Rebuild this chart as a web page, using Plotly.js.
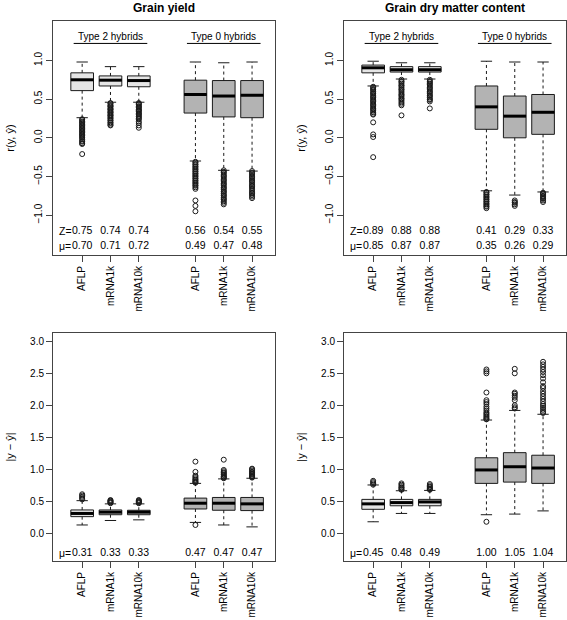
<!DOCTYPE html>
<html><head><meta charset="utf-8">
<script src="https://cdn.plot.ly/plotly-3.0.1.min.js"></script>
<style>body{margin:0;padding:0;background:#fff;} #chart{width:567px;height:620px;}</style>
</head><body><div id="chart"></div>
<script>
// ---------- categories / labels ----------
const methods = ['AFLP', 'mRNA1k', 'mRNA10k', 'AFLP', 'mRNA1k', 'mRNA10k'];
const groupNames = ['Type 2 hybrids', 'Type 0 hybrids'];
const panelTitles = ['Grain yield', 'Grain dry matter content'];

// ---------- Panel 1: Grain yield, r(y, ŷ) ----------
const gyR_q1  = [0.61, 0.67, 0.66, 0.32, 0.27, 0.26];
const gyR_med = [0.75, 0.745, 0.74, 0.56, 0.54, 0.55];
const gyR_q3  = [0.84, 0.80, 0.80, 0.745, 0.74, 0.74];
const gyR_lo  = [0.26, 0.46, 0.46, -0.30, -0.42, -0.43];
const gyR_hi  = [0.98, 0.92, 0.92, 0.98, 0.97, 0.98];
const gyR_out = [
  [0.24, 0.23, 0.21, 0.20, 0.19, 0.17, 0.16, 0.15, 0.13, 0.12, 0.11, 0.09, 0.08, 0.07, 0.05, 0.04, 0.03, 0.01, 0.0, -0.02, -0.04, -0.05, -0.07, -0.08, -0.21],
  [0.45, 0.44, 0.42, 0.41, 0.40, 0.38, 0.37, 0.36, 0.34, 0.33, 0.32, 0.30, 0.29, 0.28, 0.26, 0.25, 0.23, 0.22, 0.20, 0.19, 0.17, 0.16],
  [0.45, 0.44, 0.43, 0.41, 0.40, 0.39, 0.37, 0.36, 0.35, 0.34, 0.32, 0.31, 0.30, 0.28, 0.27, 0.25, 0.24, 0.21, 0.19, 0.16, 0.13],
  [-0.31, -0.32, -0.34, -0.35, -0.37, -0.38, -0.40, -0.41, -0.43, -0.44, -0.46, -0.47, -0.49, -0.50, -0.52, -0.53, -0.55, -0.56, -0.58, -0.59, -0.61, -0.62, -0.64, -0.66, -0.81, -0.88, -0.95],
  [-0.42, -0.44, -0.45, -0.47, -0.49, -0.50, -0.52, -0.54, -0.55, -0.57, -0.59, -0.60, -0.62, -0.64, -0.65, -0.67, -0.69, -0.70, -0.72, -0.74, -0.75, -0.77, -0.79, -0.80, -0.82, -0.84, -0.86],
  [-0.43, -0.45, -0.46, -0.48, -0.50, -0.51, -0.53, -0.55, -0.56, -0.58, -0.60, -0.62, -0.63, -0.65, -0.67, -0.69, -0.71, -0.72, -0.74, -0.76, -0.78]
];
const gyR_Z  = ['0.75', '0.74', '0.74', '0.56', '0.54', '0.55'];
const gyR_mu = ['0.70', '0.71', '0.72', '0.49', '0.47', '0.48'];

// ---------- Panel 2: Grain dry matter content, r(y, ŷ) ----------
const dmR_q1  = [0.84, 0.85, 0.85, 0.11, 0.0, 0.045];
const dmR_med = [0.905, 0.88, 0.88, 0.40, 0.28, 0.33];
const dmR_q3  = [0.94, 0.92, 0.92, 0.67, 0.54, 0.56];
const dmR_lo  = [0.67, 0.76, 0.76, -0.685, -0.74, -0.70];
const dmR_hi  = [0.99, 0.97, 0.97, 0.99, 0.98, 0.98];
const dmR_out = [
  [0.66, 0.65, 0.63, 0.62, 0.60, 0.58, 0.57, 0.55, 0.53, 0.52, 0.50, 0.48, 0.47, 0.45, 0.43, 0.42, 0.40, 0.38, 0.37, 0.35, 0.33, 0.31, 0.30, 0.20, 0.044, 0.01, -0.25],
  [0.75, 0.73, 0.72, 0.70, 0.68, 0.67, 0.65, 0.63, 0.62, 0.60, 0.58, 0.56, 0.55, 0.53, 0.51, 0.50, 0.48, 0.46, 0.44, 0.42, 0.29],
  [0.75, 0.73, 0.72, 0.70, 0.69, 0.67, 0.65, 0.64, 0.62, 0.60, 0.59, 0.57, 0.55, 0.54, 0.52, 0.50, 0.49, 0.47, 0.38],
  [-0.70, -0.71, -0.73, -0.74, -0.76, -0.77, -0.79, -0.80, -0.82, -0.83, -0.85, -0.86, -0.88, -0.89, -0.91],
  [-0.81, -0.83, -0.84, -0.86, -0.88],
  [-0.71, -0.72, -0.73, -0.75, -0.76, -0.78, -0.79, -0.81, -0.83]
];
const dmR_Z  = ['0.89', '0.88', '0.88', '0.41', '0.29', '0.33'];
const dmR_mu = ['0.85', '0.87', '0.87', '0.35', '0.26', '0.29'];

// ---------- Panel 3: Grain yield, |y − ŷ| ----------
const gyA_q1  = [0.26, 0.29, 0.29, 0.38, 0.36, 0.355];
const gyA_med = [0.31, 0.33, 0.33, 0.47, 0.47, 0.46];
const gyA_q3  = [0.365, 0.365, 0.36, 0.55, 0.56, 0.56];
const gyA_lo  = [0.13, 0.20, 0.21, 0.17, 0.13, 0.10];
const gyA_hi  = [0.51, 0.46, 0.46, 0.78, 0.85, 0.86];
const gyA_out = [
  [0.53, 0.55, 0.57, 0.59, 0.61],
  [0.47, 0.48, 0.49, 0.50, 0.51, 0.52],
  [0.47, 0.48, 0.49, 0.50, 0.51, 0.52],
  [0.79, 0.80, 0.81, 0.83, 0.84, 0.86, 0.88, 0.90, 0.96, 1.12, 0.13],
  [0.86, 0.87, 0.88, 0.89, 0.91, 0.92, 0.94, 0.95, 0.97, 0.99, 1.15],
  [0.87, 0.88, 0.89, 0.90, 0.92, 0.93, 0.95, 0.96, 0.98, 1.00, 1.01]
];
const gyA_mu = ['0.31', '0.33', '0.33', '0.47', '0.47', '0.47'];

// ---------- Panel 4: Grain dry matter content, |y − ŷ| ----------
const dmA_q1  = [0.375, 0.43, 0.43, 0.78, 0.80, 0.78];
const dmA_med = [0.46, 0.48, 0.49, 0.99, 1.04, 1.02];
const dmA_q3  = [0.53, 0.53, 0.53, 1.18, 1.26, 1.22];
const dmA_lo  = [0.18, 0.31, 0.31, 0.29, 0.30, 0.35];
const dmA_hi  = [0.755, 0.665, 0.67, 1.77, 1.92, 1.86];
const dmA_out = [
  [0.76, 0.78, 0.80, 0.82],
  [0.68, 0.69, 0.71, 0.72, 0.74, 0.76, 0.78],
  [0.68, 0.69, 0.70, 0.72, 0.73, 0.75, 0.77],
  [1.78, 1.79, 1.81, 1.83, 1.85, 1.87, 1.89, 1.92, 1.95, 1.98, 2.02, 2.05, 2.08, 2.20, 2.50, 2.53, 2.56, 0.18],
  [1.95, 1.97, 2.00, 2.08, 2.12, 2.15, 2.18, 2.20, 2.50, 2.57],
  [1.88, 1.90, 1.93, 1.96, 1.99, 2.02, 2.06, 2.10, 2.14, 2.18, 2.22, 2.27, 2.30, 2.36, 2.42, 2.47, 2.52, 2.56, 2.60, 2.64, 2.68]
];
const dmA_mu = ['0.45', '0.48', '0.49', '1.00', '1.05', '1.04'];

// ---------- layout constants ----------
const boxPos = [1, 2, 3, 5, 6, 7];
const BOXW = 0.8, CAPW = 0.2;
const FONT = 'Liberation Sans, Arial, Helvetica, sans-serif';
const fills = ['#e5e5e5', '#b3b3b3'];
const INK = '#1a1a1a';

const traces = [];
function addPanel(ax, q1, med, q3, lo, hi, out, rows) {
  const xa = 'x' + (ax === 1 ? '' : ax), ya = 'y' + (ax === 1 ? '' : ax);
  [[0, 3], [3, 6]].forEach(([a, b], g) => {
    traces.push({
      type: 'box', xaxis: xa, yaxis: ya, x: boxPos.slice(a, b),
      q1: q1.slice(a, b), median: med.slice(a, b), q3: q3.slice(a, b),
      lowerfence: q1.slice(a, b), upperfence: q3.slice(a, b),
      width: BOXW, whiskerwidth: 0, boxpoints: false,
      fillcolor: fills[g], line: {color: INK, width: 1},
      hoverinfo: 'skip', showlegend: false
    });
  });
  const wx = [], wy = [], cx = [], cy = [], mx = [], my = [], ox = [], oy = [];
  boxPos.forEach((p, i) => {
    wx.push(p, p, null, p, p, null); wy.push(q3[i], hi[i], null, q1[i], lo[i], null);
    cx.push(p - CAPW, p + CAPW, null, p - CAPW, p + CAPW, null); cy.push(hi[i], hi[i], null, lo[i], lo[i], null);
    mx.push(p - BOXW / 2, p + BOXW / 2, null); my.push(med[i], med[i], null);
    out[i].forEach(v => { ox.push(p); oy.push(v); });
  });
  traces.push({type: 'scatter', mode: 'lines', xaxis: xa, yaxis: ya, x: wx, y: wy,
    line: {color: INK, width: 1, dash: '3px,3px'}, hoverinfo: 'skip', showlegend: false});
  traces.push({type: 'scatter', mode: 'lines', xaxis: xa, yaxis: ya, x: cx, y: cy,
    line: {color: INK, width: 1}, hoverinfo: 'skip', showlegend: false});
  traces.push({type: 'scatter', mode: 'lines', xaxis: xa, yaxis: ya, x: mx, y: my,
    line: {color: '#000', width: 3}, hoverinfo: 'skip', showlegend: false});
  traces.push({type: 'scatter', mode: 'markers', xaxis: xa, yaxis: ya, x: ox, y: oy,
    marker: {symbol: 'circle-open', size: 5, color: INK, line: {width: 1, color: INK}},
    hoverinfo: 'skip', showlegend: false});
  rows.forEach(r => {
    traces.push({type: 'scatter', mode: 'text', xaxis: xa, yaxis: ya, x: boxPos, y: boxPos.map(() => r.y),
      text: r.vals, textposition: 'middle center', cliponaxis: false,
      textfont: {family: FONT, size: 10.5, color: '#000'}, hoverinfo: 'skip', showlegend: false});
  });
}

const rowZ = -1.205, rowMu = -1.40, rowMuB = -0.31;
addPanel(1, gyR_q1, gyR_med, gyR_q3, gyR_lo, gyR_hi, gyR_out, [{y: rowZ, vals: gyR_Z}, {y: rowMu, vals: gyR_mu}]);
addPanel(2, dmR_q1, dmR_med, dmR_q3, dmR_lo, dmR_hi, dmR_out, [{y: rowZ, vals: dmR_Z}, {y: rowMu, vals: dmR_mu}]);
addPanel(3, gyA_q1, gyA_med, gyA_q3, gyA_lo, gyA_hi, gyA_out, [{y: rowMuB, vals: gyA_mu}]);
addPanel(4, dmA_q1, dmA_med, dmA_q3, dmA_lo, dmA_hi, dmA_out, [{y: rowMuB, vals: dmA_mu}]);

const W = 567, H = 620;
const xDom = [[53 / W, 275 / W], [344 / W, 566 / W]];
const yDom = [[1 - 255 / H, 1 - 21 / H], [1 - 561 / H, 1 - 333 / H]];
const XR = [-0.03, 7.81];
const YR_top = [-1.515, 1.51], YR_bot = [-0.433, 3.13];

function xAxis(col, anchor) {
  return {domain: xDom[col], range: XR, anchor: anchor, showgrid: false, zeroline: false,
    showline: true, mirror: true, linecolor: '#444', linewidth: 1,
    ticks: 'outside', ticklen: 6, tickcolor: '#444', tickwidth: 1,
    tickvals: boxPos, ticktext: methods, tickangle: -90,
    tickfont: {family: FONT, size: 10, color: '#000'}, fixedrange: true};
}
function yAxis(row, anchor, title) {
  const top = row === 0;
  return {domain: yDom[row], range: top ? YR_top : YR_bot, anchor: anchor,
    showgrid: false, zeroline: false, showline: true, mirror: true, linecolor: '#444', linewidth: 1,
    ticks: 'outside', ticklen: 6, tickcolor: '#444', tickwidth: 1,
    tickvals: top ? [-1, -0.5, 0, 0.5, 1] : [0, 0.5, 1, 1.5, 2, 2.5, 3],
    tickformat: '.1f', tickangle: top ? -90 : 0,
    tickfont: {family: FONT, size: 10, color: '#000'},
    title: {text: title, font: {family: FONT, size: 11, color: '#000'}, standoff: top ? 16 : 13},
    fixedrange: true};
}

const annotations = [];
const shapes = [];
[0, 1].forEach(col => {
  annotations.push({xref: 'paper', yref: 'paper', x: (xDom[col][0] + xDom[col][1]) / 2, y: 1,
    xanchor: 'center', yanchor: 'top', borderpad: 0, showarrow: false, text: '<b>' + panelTitles[col] + '</b>',
    font: {family: FONT, size: 12, color: '#000'}});
});
[1, 2].forEach(ax => {
  const xr = 'x' + (ax === 1 ? '' : ax), yr = 'y' + (ax === 1 ? '' : ax);
  [[2, 0.7, 3.3], [6, 4.7, 7.3]].forEach(([c, a, b], g) => {
    annotations.push({xref: xr, yref: yr, x: c, y: 1.31, showarrow: false, text: groupNames[g],
      xanchor: 'center', yanchor: 'middle', font: {family: FONT, size: 10, color: '#000'}});
    shapes.push({type: 'line', xref: xr, yref: yr, x0: a, x1: b, y0: 1.22, y1: 1.22, line: {color: '#000', width: 1}});
  });
  annotations.push({xref: xr, yref: yr, x: 0.1, y: rowZ, showarrow: false, text: 'Z=', xanchor: 'left',
    yanchor: 'middle', font: {family: FONT, size: 10.5, color: '#000'}});
  annotations.push({xref: xr, yref: yr, x: 0.1, y: rowMu, showarrow: false, text: 'μ=', xanchor: 'left',
    yanchor: 'middle', font: {family: FONT, size: 10.5, color: '#000'}});
});
[3, 4].forEach(ax => {
  annotations.push({xref: 'x' + ax, yref: 'y' + ax, x: 0.1, y: rowMuB, showarrow: false, text: 'μ=', xanchor: 'left',
    yanchor: 'middle', font: {family: FONT, size: 10.5, color: '#000'}});
});

const layout = {
  width: W, height: H, margin: {l: 0, r: 0, t: 0, b: 0}, paper_bgcolor: '#fff', plot_bgcolor: 'rgba(0,0,0,0)',
  showlegend: false, font: {family: FONT, color: '#000'},
  xaxis: xAxis(0, 'y'), yaxis: yAxis(0, 'x', 'r(y, ŷ)'),
  xaxis2: xAxis(1, 'y2'), yaxis2: yAxis(0, 'x2', 'r(y, ŷ)'),
  xaxis3: xAxis(0, 'y3'), yaxis3: yAxis(1, 'x3', '|y − ŷ|'),
  xaxis4: xAxis(1, 'y4'), yaxis4: yAxis(1, 'x4', '|y − ŷ|'),
  annotations: annotations, shapes: shapes
};
Plotly.newPlot('chart', traces, layout, {staticPlot: true, displayModeBar: false});
</script></body></html>
